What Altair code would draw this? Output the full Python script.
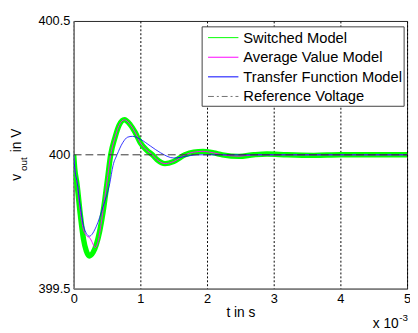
import altair as alt
import pandas as pd

FONT = "Liberation Sans"

# ---- data (time in ms, voltage in V) ----
t_sw = [0, 0.015, 0.05, 0.1, 0.147, 0.19, 0.235, 0.29, 0.34, 0.39, 0.44, 0.5, 0.555, 0.62, 0.68,
        0.76, 0.85, 0.92, 1.0, 1.1, 1.18, 1.25, 1.37, 1.5, 1.67, 1.8, 1.94, 2.1, 2.23, 2.48, 2.7,
        2.9, 3.2, 3.6, 4.0, 4.5, 5.0]
v_sw = [400.0, 399.95, 399.89, 399.775, 399.685, 399.64, 399.622, 399.635, 399.665, 399.715,
        399.785, 399.895, 400.0, 400.065, 400.11, 400.131, 400.112, 400.085, 400.045, 400.016,
        400.0, 399.982, 399.967, 399.975, 400.0, 400.01, 400.013, 400.007, 400.0, 399.994, 400.0,
        400.003, 400.0, 399.998, 400.0, 400.0, 400.0]

t_av = [0, 0.015, 0.05, 0.1, 0.147, 0.2, 0.24, 0.28, 0.32, 0.36, 0.41, 0.46, 0.51, 0.555, 0.62,
        0.68, 0.76, 0.85, 0.92, 1.0, 1.1, 1.18, 1.25, 1.37, 1.5, 1.67, 1.8, 1.94, 2.1, 2.23, 2.48,
        2.7, 3.0, 4.0, 5.0]
v_av = [400.0, 399.95, 399.895, 399.79, 399.72, 399.696, 399.69, 399.672, 399.653, 399.67,
        399.74, 399.83, 399.92, 400.0, 400.065, 400.11, 400.131, 400.112, 400.085, 400.045,
        400.016, 400.0, 399.982, 399.967, 399.975, 400.0, 400.01, 400.013, 400.007, 400.0,
        399.995, 400.0, 400.0, 400.0, 400.0]

t_tf = [0, 0.02, 0.05, 0.1, 0.147, 0.235, 0.34, 0.44, 0.54, 0.59, 0.65, 0.735, 0.81, 0.88, 1.0,
        1.15, 1.3, 1.5, 1.7, 1.85, 2.2, 3.0, 4.0, 5.0]
v_tf = [400.0, 399.94, 399.9, 399.806, 399.735, 399.696, 399.733, 399.806, 399.892, 399.96,
        400.0, 400.045, 400.066, 400.069, 400.058, 400.033, 400.008, 399.988, 399.995, 400.0,
        400.0, 400.0, 400.0, 400.0]

t_ref = [0, 5]
v_ref = [400.0, 400.0]

x_ticks = [0, 1, 2, 3, 4, 5]
y_ticks = [399.5, 400.0, 400.5]

legend_labels = ["Switched Model", "Average Value Model", "Transfer Function Model", "Reference Voltage"]
legend_colors = ["#00FF00", "#FF00FF", "#0000FF", "#707070"]

# ---- scales / axes ----
x_scale = alt.Scale(domain=[0, 5], nice=False, zero=False)
y_scale = alt.Scale(domain=[399.5, 400.5], nice=False, zero=False)

x_axis = alt.Axis(values=x_ticks, format="d", grid=True, gridColor="black", gridDash=[2, 2],
                  gridWidth=1, gridOpacity=1, ticks=False, domainColor="#808080", domainWidth=1.5,
                  labelFontSize=13, labelPadding=4, labelColor="black", labelFlush=False,
                  title="t in s", titleFontSize=14, titleFontWeight="normal", titleColor="black",
                  titlePadding=0)
y_axis = alt.Axis(values=y_ticks, format=".1~f", grid=False, ticks=False, domainColor="#808080",
                  domainWidth=1.5, labelFontSize=13, labelPadding=4, labelColor="black",
                  labelFlush=False, title=None)


def line_layer(t, v, color, width, dash=None):
    df = pd.DataFrame({"t": t, "v": v})
    kw = dict(color=color, strokeWidth=width, interpolate="monotone", clip=True)
    if dash is not None:
        kw["strokeDash"] = dash
    return alt.Chart(df).mark_line(**kw).encode(
        x=alt.X("t:Q", scale=x_scale, axis=x_axis),
        y=alt.Y("v:Q", scale=y_scale, axis=y_axis),
    )


one = pd.DataFrame({"a": [0]})

layers = [
    line_layer(t_sw, v_sw, "#00FF00", 5.5),
    line_layer(t_av, v_av, "#FF00FF", 1.0),
    line_layer(t_tf, v_tf, "#0000FF", 0.8),
    line_layer(t_ref, v_ref, "#333333", 1.0, dash=[8, 4]),
]

# legend box
layers.append(
    alt.Chart(one).mark_rect(fill="white", stroke="#404040", strokeWidth=1).encode(
        x=alt.value(131), x2=alt.value(337), y=alt.value(6), y2=alt.value(87))
)
for i, (lab, col) in enumerate(zip(legend_labels, legend_colors)):
    yy = 17 + 20 * i
    rkw = dict(color=col, strokeWidth=1)
    if i == 3:
        rkw["strokeDash"] = [6, 3, 2, 3]
    layers.append(alt.Chart(one).mark_rule(**rkw).encode(
        x=alt.value(137), x2=alt.value(168), y=alt.value(yy)))
    layers.append(alt.Chart(one).mark_text(text=lab, align="left", baseline="middle", fontSize=15,
                                           font=FONT, color="black").encode(
        x=alt.value(173), y=alt.value(yy)))

# y-axis title: v_out in V
layers.append(alt.Chart(one).mark_text(text="v", angle=270, align="left", baseline="alphabetic",
                                       fontSize=14, font=FONT, color="black").encode(
    x=alt.value(-54), y=alt.value(163)))
layers.append(alt.Chart(one).mark_text(text="out", angle=270, align="left", baseline="alphabetic",
                                       fontSize=10, font=FONT, color="black").encode(
    x=alt.value(-48), y=alt.value(153)))
layers.append(alt.Chart(one).mark_text(text="in V", angle=270, align="left", baseline="alphabetic",
                                       fontSize=14, font=FONT, color="black").encode(
    x=alt.value(-54), y=alt.value(134)))

# x exponent: x 10^-3
layers.append(alt.Chart(one).mark_text(text="x 10", align="left", baseline="alphabetic",
                                       fontSize=14, font=FONT, color="black").encode(
    x=alt.value(305), y=alt.value(313)))
layers.append(alt.Chart(one).mark_text(text="-3", align="left", baseline="alphabetic",
                                       fontSize=10, font=FONT, color="black").encode(
    x=alt.value(332), y=alt.value(306)))

chart = alt.layer(*layers).properties(
    width=340, height=273,
    autosize=alt.AutoSizeParams(type="none"),
    padding={"left": 67, "top": 10, "right": 3, "bottom": 41},
    background="white",
).configure(font=FONT).configure_view(stroke="#262626", strokeWidth=1)

chart.save("out.html", embed_options={"renderer": "svg", "actions": False})
